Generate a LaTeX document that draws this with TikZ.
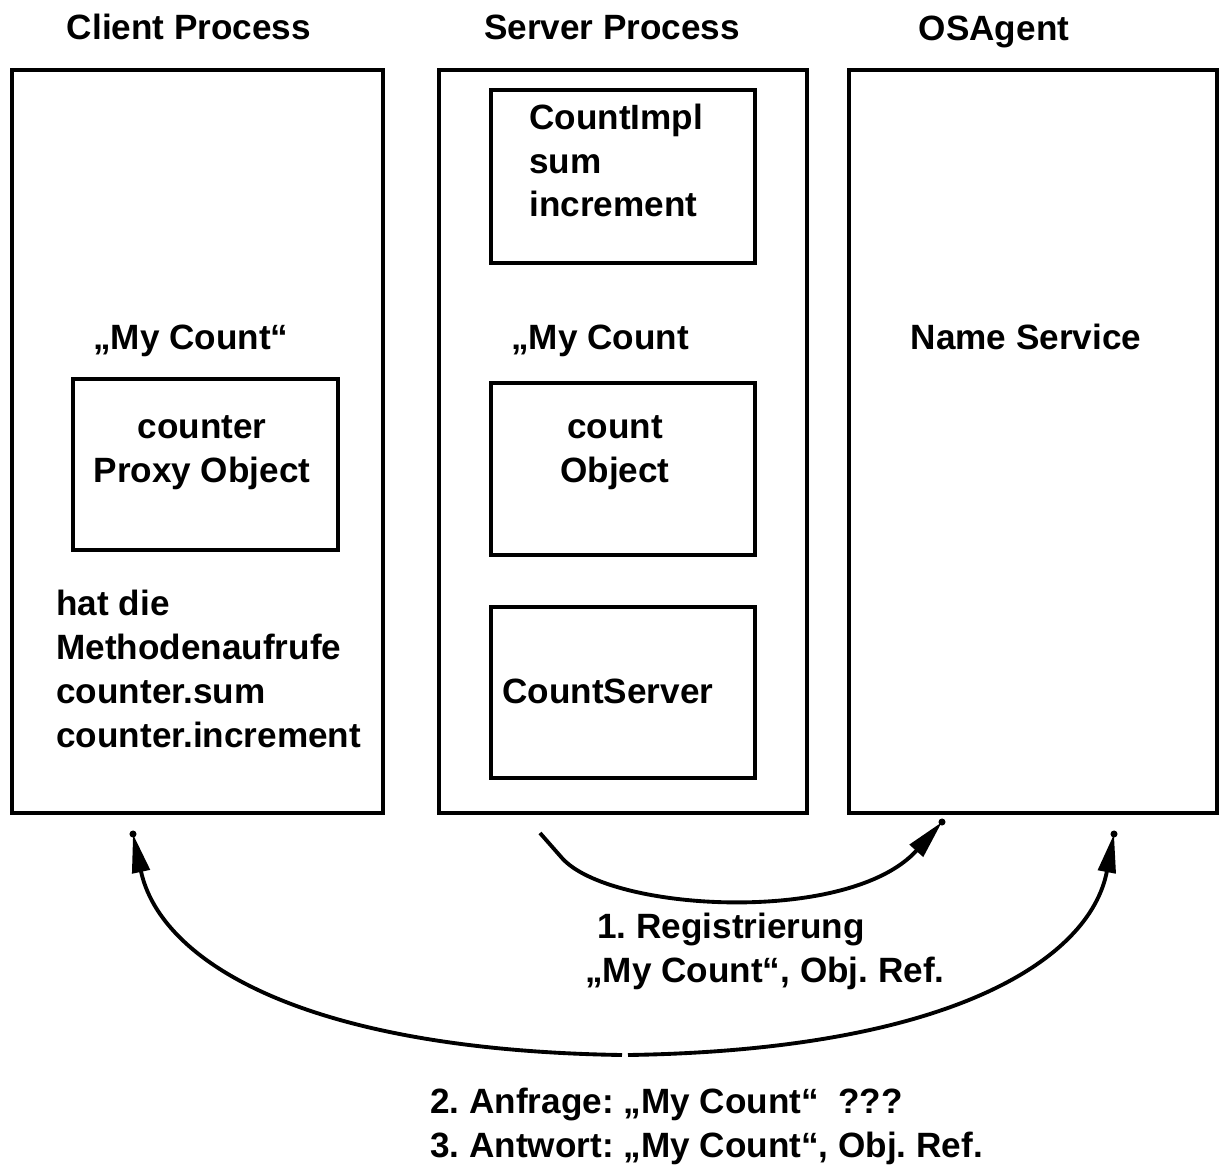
\documentclass[tikz,border=0pt]{standalone}
\usepackage{fontspec}
\setmainfont{Liberation Sans}
\usetikzlibrary{arrows.meta, positioning}
\frenchspacing
\begin{document}
\begin{tikzpicture}[
    x=0.02cm, y=-0.02cm,
    process/.style={draw, line width=2.2pt, minimum width=7.36cm, minimum height=14.86cm, inner sep=0pt},
    part/.style={draw, line width=2.2pt, minimum width=5.28cm, minimum height=3.44cm, inner sep=0pt},
    lbl/.style={font=\fontsize{20}{25}\selectfont\bfseries, inner sep=0pt},
    flow/.style={line width=2.2pt, -{Triangle[length=22pt, width=10pt]}},
    enddot/.style={circle, fill, inner sep=0pt, minimum size=4pt}
]
    \useasboundingbox (0,0) rectangle (1221,1164);

    % Processes
    \node[process, minimum width=7.42cm] (client) at (197.5,441.5) {};
    \node[lbl] (clienttitle) at (189,27) {Client Process};
    \node[process] (server) at (623,441.5) {};
    \node[lbl] (servertitle) at (612,27) {Server Process};
    \node[process] (agent) at (1033,441.5) {};
    \node[lbl] (agenttitle) at (994,32) {OSAgent};

    % Client side
    \node[lbl] (clientname) at (191,341) {„My Count“};
    \node[part, minimum width=5.3cm, minimum height=3.42cm] (proxy) at (205.5,464.5) {};
    \node[lbl, align=center] (proxytext) at (202,453) {counter\\Proxy Object};
    \node[lbl, align=left, anchor=west] (calls) at (56,669) {hat die\\Methodenaufrufe\\counter.sum\\counter.increment};

    % Server side
    \node[part, minimum height=3.46cm] (impl) at (623,176.5) {};
    \node[lbl, align=left, anchor=west] (impltext) at (529,160.5) {CountImpl\\sum\\increment};
    \node[lbl] (servername) at (600,341) {„My Count};
    \node[part] (count) at (623,469) {};
    \node[lbl, align=center] (counttext) at (615,453) {count\\Object};
    \node[part, minimum height=3.42cm] (countserver) at (623,692.5) {};
    \node[lbl, anchor=west] (countservertext) at (502,691) {CountServer};

    % Name service
    \node[lbl] (naming) at (1026,337) {Name Service};

    % Registration
    \coordinate (regstart) at (540,833);
    \coordinate (regbend) at (562,858);
    \coordinate (regend) at (942,822);
    \draw[flow] (regstart) -- (regbend) .. controls (610,912) and (850,925) .. (regend);
    \node[enddot] (regdot) at (regend) {};
    \node[lbl, anchor=west] (reg1) at (597,929) {1. Registrierung};
    \node[lbl, anchor=west] (reg2) at (585,973) {„My Count“, Obj. Ref.};

    % Lookup
    \coordinate (askL) at (622,1055);
    \coordinate (askR) at (628,1055);
    \coordinate (clientend) at (133,834);
    \coordinate (agentend) at (1114,834);
    \draw[flow] (askL) .. controls (300,1050) and (160,960) .. (clientend);
    \draw[flow] (askR) .. controls (950,1050) and (1090,960) .. (agentend);
    \node[enddot] (clientdot) at (clientend) {};
    \node[enddot] (agentdot) at (agentend) {};
    \node[lbl, align=left, anchor=west] (lookup) at (430,1126) {2. Anfrage: „My Count“\ \ ???\\3. Antwort: „My Count“, Obj. Ref.};

\end{tikzpicture}
\end{document}
